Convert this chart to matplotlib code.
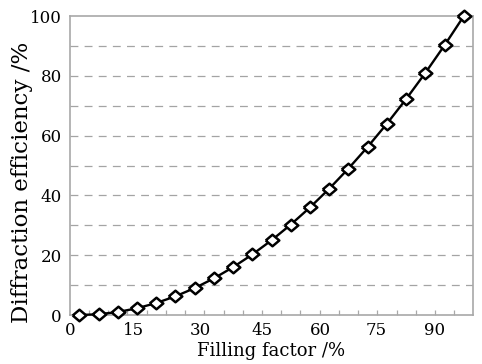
import matplotlib
matplotlib.use("Agg")
import matplotlib.pyplot as plt
from matplotlib.ticker import FixedLocator

# Data
filling_factor = [0, 5, 10, 15, 20, 25, 30, 35, 40, 45, 50,
                  55, 60, 65, 70, 75, 80, 85, 90, 95, 100]
efficiency = [0, 0.25, 1, 2.25, 4, 6.25, 9, 12.25, 16, 20.25, 25,
              30.25, 36, 42.25, 49, 56.25, 64, 72.25, 81, 90.25, 100]
x_tick_labels = ["0", "15", "30", "45", "60", "75", "90"]
y_tick_labels = ["0", "20", "40", "60", "80", "100"]
y_ticks = [0, 20, 40, 60, 80, 100]
grid_levels = [10, 20, 30, 40, 50, 60, 70, 80, 90]

# layout (label positions in axis data units)
x_label_pos = [-2.4, 14.1, 31.4, 47.6, 62.6, 77.3, 92.3]
minor_pos = [2.5 + 5 * k for k in range(20)]

plt.rcParams['font.family'] = ['DejaVu Serif']

fig = plt.figure(figsize=(4.82, 3.64), dpi=100)
ax = fig.add_axes([0.1452, 0.1346, 0.8355, 0.8214])

gray = '#a8a8a8'
for g in grid_levels:
    ax.axhline(g, color='#a4a4a4', lw=0.9, dashes=(6.3, 5.0), zorder=1)

diamond = [(-1, 0), (0, 0.85), (1, 0), (0, -0.85), (-1, 0)]
ax.plot(filling_factor, efficiency, color='black', lw=1.7, marker=diamond,
        markersize=9.8, markerfacecolor='white', markeredgecolor='black',
        markeredgewidth=1.8, zorder=3, clip_on=False)

ax.set_xlim(-2.42, 102.3)
ax.set_ylim(0, 100)

for s in ax.spines.values():
    s.set_color(gray)
    s.set_linewidth(1.2)

ax.set_xticks(x_label_pos)
ax.set_xticklabels(x_tick_labels, fontsize=12)
ax.xaxis.set_minor_locator(FixedLocator(minor_pos))
ax.tick_params(axis='x', which='major', length=0, pad=5)
ax.tick_params(axis='x', which='minor', direction='in', length=3.6,
               width=0.9, color=gray)
ax.set_yticks(y_ticks)
ax.set_yticklabels(y_tick_labels, fontsize=12)
ax.tick_params(axis='y', which='major', length=0, pad=6)

ax.set_xlabel("Filling factor /%", fontsize=13, labelpad=2)
ax.set_ylabel("Diffraction efficiency /%", fontsize=16.5)
ax.yaxis.set_label_coords(-0.092, 0.445)

fig.savefig("out.png", dpi=100)
